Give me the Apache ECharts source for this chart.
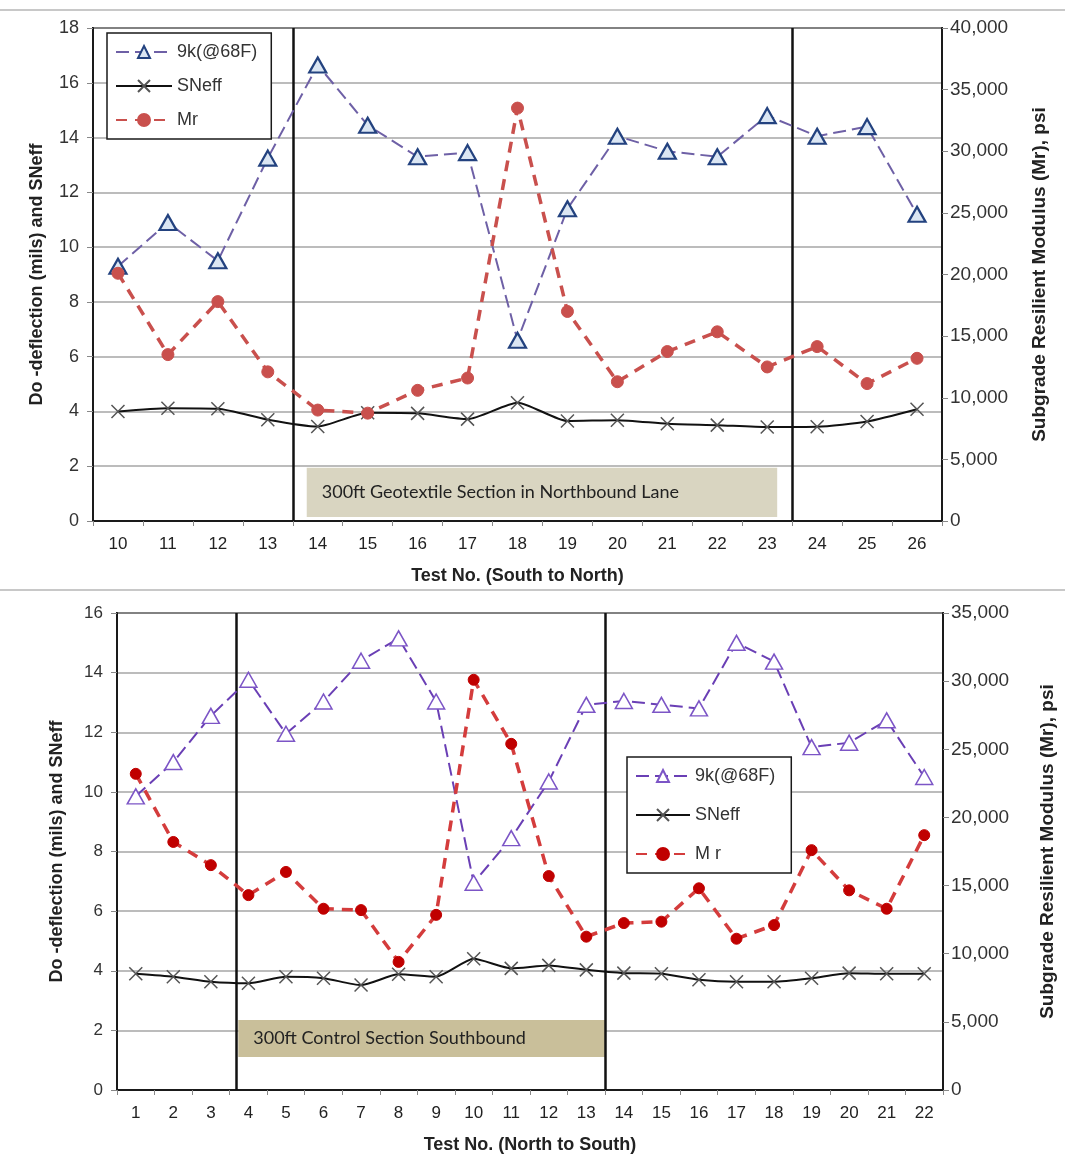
<!DOCTYPE html>
<html>
<head>
<meta charset="utf-8">
<script src="https://cdn.jsdelivr.net/npm/echarts@6/dist/echarts.min.js"></script>
<style>
html,body{margin:0;padding:0;background:#fff;}
#c{width:1065px;height:1171px;}
</style>
</head>
<body>
<div id="c"></div>
<script>
// ---- Top chart data (Northbound, South to North) ----
const topTests = ['10','11','12','13','14','15','16','17','18','19','20','21','22','23','24','25','26'];
const top9k    = [9.3, 10.9, 9.5, 13.25, 16.65, 14.45, 13.3, 13.45, 6.6, 11.4, 14.05, 13.5, 13.3, 14.8, 14.05, 14.4, 11.2];
const topSNeff = [4.0, 4.12, 4.1, 3.7, 3.45, 3.95, 3.93, 3.72, 4.32, 3.65, 3.68, 3.55, 3.5, 3.43, 3.44, 3.63, 4.08];
const topMr    = [20100, 13500, 17800, 12100, 9000, 8750, 10600, 11600, 33500, 17000, 11300, 13750, 15350, 12500, 14150, 11150, 13200];
const topDividers = [13.5, 23.5];
const topSection = {text: '300ft Geotextile Section in Northbound Lane', from: 13.78, to: 23.2, yLow: 0.15, yHigh: 1.94};

// ---- Bottom chart data (Southbound, North to South) ----
const botTests = ['1','2','3','4','5','6','7','8','9','10','11','12','13','14','15','16','17','18','19','20','21','22'];
const bot9k    = [9.85, 11.0, 12.55, 13.76, 11.95, 13.03, 14.4, 15.15, 13.03, 6.95, 8.45, 10.35, 12.92, 13.05, 12.92, 12.8, 15.0, 14.37, 11.5, 11.65, 12.4, 10.5];
const botSNeff = [3.9, 3.8, 3.63, 3.58, 3.8, 3.75, 3.52, 3.88, 3.8, 4.4, 4.08, 4.18, 4.03, 3.92, 3.9, 3.7, 3.63, 3.63, 3.75, 3.92, 3.9, 3.9];
const botMr    = [23200, 18200, 16500, 14300, 16000, 13300, 13200, 9400, 12850, 30100, 25400, 15700, 11250, 12250, 12350, 14800, 11100, 12100, 17600, 14650, 13300, 18700];
const botDividers = [3.68, 13.5];
const botSection = {text: '300ft Control Section Southbound', from: 3.73, to: 13.5, yLow: 1.11, yHigh: 2.35};

const leftTitle = 'Do -deflection (mils) and SNeff';
const rightTitle = 'Subgrade Resilient Modulus (Mr), psi';
const topXTitle = 'Test No. (South to North)';
const botXTitle = 'Test No. (North to South)';

const FONT = 'Liberation Sans, Arial, sans-serif';
const NARROW = 'Liberation Sans Narrow, Arial Narrow, Liberation Sans, sans-serif';
const XPATH = 'path://M0,0L10,10M10,0L0,10';

function fmtThousands(v){ return v === 0 ? '0' : String(v).replace(/\B(?=(\d{3})+(?!\d))/g, ','); }

const chart = echarts.init(document.getElementById('c'), null, {renderer: 'canvas'});

const gridBase = {show: true, borderColor: '#1a1a1a', borderWidth: 2, backgroundColor: '#fff'};

function catAxis(gi, data, title, gap){
  return {
    type: 'category', gridIndex: gi, data: data, boundaryGap: true,
    axisLine: {lineStyle: {color: '#1a1a1a', width: 2}},
    axisTick: {show: true, inside: false, length: 5, lineStyle: {color: '#888'}},
    axisLabel: {color: '#222', fontSize: 17, fontFamily: NARROW, margin: 15},
    name: title, nameLocation: 'middle', nameGap: gap,
    nameTextStyle: {color: '#222', fontSize: 18, fontWeight: 'bold', fontFamily: NARROW}
  };
}
function hiddenVal(gi, min, max){
  return {type: 'value', gridIndex: gi, min: min, max: max, show: false, splitLine: {show: false}};
}
function leftAxis(gi, max, fontSize, gap){
  return {
    type: 'value', gridIndex: gi, position: 'left', min: 0, max: max, interval: 2,
    axisLine: {show: true, lineStyle: {color: '#1a1a1a', width: 2}},
    axisTick: {show: true, length: 6, lineStyle: {color: '#888'}},
    axisLabel: {color: '#333', fontSize: fontSize, fontFamily: FONT, margin: 14},
    splitLine: {show: true, lineStyle: {color: '#a6a6a6', width: 1.5}},
    name: leftTitle, nameLocation: 'middle', nameGap: gap, nameRotate: 90,
    nameTextStyle: {color: '#222', fontSize: 18, fontWeight: 'bold', fontFamily: FONT}
  };
}
function rightAxis(gi, max, gap){
  return {
    type: 'value', gridIndex: gi, position: 'right', min: 0, max: max, interval: 5000,
    axisLine: {show: true, lineStyle: {color: '#1a1a1a', width: 2}},
    axisTick: {show: true, length: 6, lineStyle: {color: '#888'}},
    axisLabel: {color: '#333', fontSize: 19, fontFamily: FONT, margin: 8, formatter: fmtThousands},
    splitLine: {show: false},
    name: rightTitle, nameLocation: 'middle', nameGap: gap, nameRotate: 90,
    nameTextStyle: {color: '#222', fontSize: 19, fontWeight: 'bold', fontFamily: FONT}
  };
}

function annotSeries(xi, yi, dividers, sec, boxColor){
  return {
    type: 'line', xAxisIndex: xi, yAxisIndex: yi, data: [], silent: true, z: 5,
    markLine: {
      silent: true, symbol: 'none', animation: false,
      label: {show: false},
      lineStyle: {color: '#111', width: 2.5, type: 'solid'},
      data: dividers.map(d => ({xAxis: d}))
    },
    markArea: {
      silent: true, animation: false,
      itemStyle: {color: boxColor},
      label: {show: true, position: 'insideLeft', distance: 15, color: '#222', fontSize: 18, fontFamily: 'Lato, Open Sans, sans-serif'},
      data: [[{name: sec.text, xAxis: sec.from, yAxis: sec.yLow}, {xAxis: sec.to, yAxis: sec.yHigh}]]
    }
  };
}

const option = {
  backgroundColor: '#fff',
  animation: false,
  graphic: [
    {type: 'line', shape: {x1: 0, y1: 10, x2: 1065, y2: 10}, style: {stroke: '#c8c8c8', lineWidth: 2}},
    {type: 'line', shape: {x1: 0, y1: 590, x2: 1065, y2: 590}, style: {stroke: '#c8c8c8', lineWidth: 2}}
  ],
  grid: [
    Object.assign({left: 93, top: 28, width: 849, height: 493}, gridBase),
    Object.assign({left: 117, top: 613, width: 826, height: 477}, gridBase)
  ],
  legend: [
    {
      data: ['9k(@68F)', 'SNeff', 'Mr'], orient: 'vertical', left: 107, top: 33,
      itemWidth: 56, itemHeight: 15, itemGap: 16,
      borderColor: '#1a1a1a', borderWidth: 1.5, backgroundColor: '#fff',
      padding: [10, 14, 10, 8],
      textStyle: {color: '#333', fontSize: 18, fontFamily: FONT},
      selectedMode: false
    },
    {
      data: ['9k(@68F) ', 'SNeff ', 'M r'], orient: 'vertical', left: 627, top: 757,
      itemWidth: 54, itemHeight: 15, itemGap: 21,
      borderColor: '#1a1a1a', borderWidth: 1.5, backgroundColor: '#fff',
      padding: [10, 16, 10, 8],
      textStyle: {color: '#333', fontSize: 18, fontFamily: FONT},
      formatter: n => n.trim(),
      selectedMode: false
    }
  ],
  xAxis: [
    catAxis(0, topTests, topXTitle, 46),
    hiddenVal(0, 9.5, 26.5),
    catAxis(1, botTests, botXTitle, 46),
    hiddenVal(1, 0.5, 22.5)
  ],
  yAxis: [
    leftAxis(0, 18, 18, 47),
    rightAxis(0, 40000, 88),
    leftAxis(1, 16, 17, 51),
    rightAxis(1, 35000, 95)
  ],
  series: [
    annotSeries(1, 0, topDividers, topSection, '#d9d5c1'),
    annotSeries(3, 2, botDividers, botSection, '#c9bf9a'),
    {
      name: '9k(@68F)', type: 'line', xAxisIndex: 0, yAxisIndex: 0, data: top9k, z: 6,
      symbol: 'triangle', symbolSize: [17, 15],
      lineStyle: {color: '#6e60a6', width: 2, type: [13, 6]},
      itemStyle: {color: '#dbe6f3', borderColor: '#23427f', borderWidth: 2.2}
    },
    {
      name: 'SNeff', type: 'line', xAxisIndex: 0, yAxisIndex: 0, data: topSNeff, z: 7,
      smooth: 0.2, symbol: XPATH, symbolSize: 13,
      lineStyle: {color: '#111', width: 2},
      itemStyle: {color: '#555', borderColor: '#555', borderWidth: 1.5}
    },
    {
      name: 'Mr', type: 'line', xAxisIndex: 0, yAxisIndex: 1, data: topMr, z: 8,
      symbol: 'circle', symbolSize: 12,
      lineStyle: {color: '#c9504d', width: 3.5, type: [11, 8]},
      itemStyle: {color: '#c9504d', borderColor: '#c9504d', borderWidth: 1}
    },
    {
      name: '9k(@68F) ', type: 'line', xAxisIndex: 2, yAxisIndex: 2, data: bot9k, z: 6,
      symbol: 'triangle', symbolSize: [17, 15],
      lineStyle: {color: '#6a3fb5', width: 2, type: [13, 6]},
      itemStyle: {color: '#fff', borderColor: '#7c55c6', borderWidth: 1.5}
    },
    {
      name: 'SNeff ', type: 'line', xAxisIndex: 2, yAxisIndex: 2, data: botSNeff, z: 7,
      smooth: 0.2, symbol: XPATH, symbolSize: 13,
      lineStyle: {color: '#111', width: 2},
      itemStyle: {color: '#555', borderColor: '#555', borderWidth: 1.5}
    },
    {
      name: 'M r', type: 'line', xAxisIndex: 2, yAxisIndex: 3, data: botMr, z: 8,
      symbol: 'circle', symbolSize: 11,
      lineStyle: {color: '#d43c3c', width: 3.5, type: [11, 8]},
      itemStyle: {color: '#c00000', borderColor: '#c00000', borderWidth: 1}
    }
  ]
};
chart.setOption(option);
</script>
</body>
</html>
